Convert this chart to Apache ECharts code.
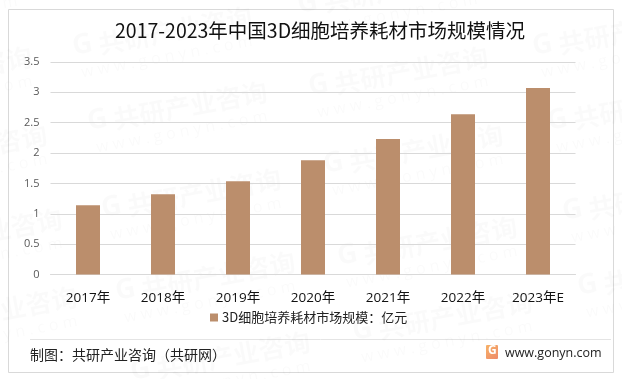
<!DOCTYPE html>
<html><head><meta charset="utf-8">
<style>html,body{margin:0;padding:0;background:#fff}#c{width:622px;height:379px}</style>
<script src="https://cdn.jsdelivr.net/npm/echarts@6/dist/echarts.min.js"></script>
</head><body><div id="c"></div>
<script>
const title = '2017-2023年中国3D细胞培养耗材市场规模情况';
const seriesName = '3D细胞培养耗材市场规模：亿元';
const categories = ['2017年','2018年','2019年','2020年','2021年','2022年','2023年E'];
const values = [1.14,1.32,1.535,1.88,2.23,2.64,3.07];
const source = '制图：共研产业咨询（共研网）';
const site = 'www.gonyn.com';
const wmName = '共研产业咨询';
const wmSite = 'w w w . g o n y n . c o m';
const wmStarts = [[75,60],[90,135],[104,222],[118,305],[133,385],[-160,20],[-145,100],[-130,178],[-115,262],[-100,340],
  [311,100],[326,178],[340,270],[355,345],[535,60],[550,135],[565,225],[580,300],[300,18],[530,-20]];
const font = '"Noto Sans CJK SC","Noto Sans",sans-serif';
const latin = '"Open Sans","Noto Sans CJK SC",sans-serif';

const chart = echarts.init(document.getElementById('c'), null, {renderer:'canvas'});
const wm = [];
const wmFill = 'rgba(0,0,0,0.02)';
wmStarts.forEach(([x,y]) => {
  wm.push({type:'group', x, y, rotation:10.5*Math.PI/180, silent:true, z:100, children:[
    {type:'text', style:{x:0,y:-27,text:'G',font:'bold 28px '+latin,fill:wmFill}},
    {type:'text', style:{x:26,y:-24,text:wmName,font:'bold 26px '+font,fill:wmFill}},
    {type:'text', style:{x:4,y:6,text:wmSite,font:'16px '+latin,fill:wmFill}}
  ]});
});
chart.setOption({
  animation:false,
  backgroundColor:'#fff',
  title:{text:title,top:21,padding:0,left:115,
    textStyle:{fontFamily:font,fontSize:19.5,fontWeight:'normal',color:'#111'}},
  legend:{show:true,left:210,top:311,padding:0,itemWidth:8,itemHeight:8,itemGap:4,icon:'rect',
    textStyle:{fontFamily:font,fontSize:13,color:'#222',padding:[0,0,0,-1]}},
  grid:{left:50.5,right:46.5,top:62,bottom:104.5,containLabel:false},
  xAxis:{type:'category',data:categories,
    axisLine:{lineStyle:{color:'#d9d9d9',width:1}},axisTick:{show:false},
    axisLabel:{margin:17,fontFamily:latin,fontSize:13.5,color:'#111'}},
  yAxis:{type:'value',min:0,max:3.5,interval:0.5,
    axisLine:{show:false},axisTick:{show:false},
    splitLine:{lineStyle:{color:'#d9d9d9',width:1}},
    axisLabel:{margin:11,fontFamily:latin,fontSize:11,color:'#595959'}},
  series:[{type:'bar',name:seriesName,data:values,barWidth:24,itemStyle:{color:'#bb8e6c'}}],
  graphic:[
    {type:'rect',shape:{x:8.5,y:9.5,width:605,height:363},style:{fill:'none',stroke:'#d9d9d9',lineWidth:1},silent:true},
    {type:'line',shape:{x1:30,y1:339.5,x2:611,y2:339.5},style:{stroke:'#e4e4e4',lineWidth:1},silent:true},
    {type:'text',style:{x:30,y:348,text:source,font:'14px '+font,fill:'#222'}},
    {type:'rect',shape:{x:486,y:345,width:12,height:14,r:1},style:{fill:new echarts.graphic.LinearGradient(0,0,1,1,[{offset:0,color:'#f7b267'},{offset:1,color:'#ee8a6a'}])}},
    {type:'text',style:{x:488,y:345,text:'G',font:'bold 12px '+latin,fill:'#fff'}},
    {type:'text',style:{x:505,y:347,text:site,font:'12.5px '+latin,fill:'#222'}},
    ...wm
  ]
});
</script></body></html>
